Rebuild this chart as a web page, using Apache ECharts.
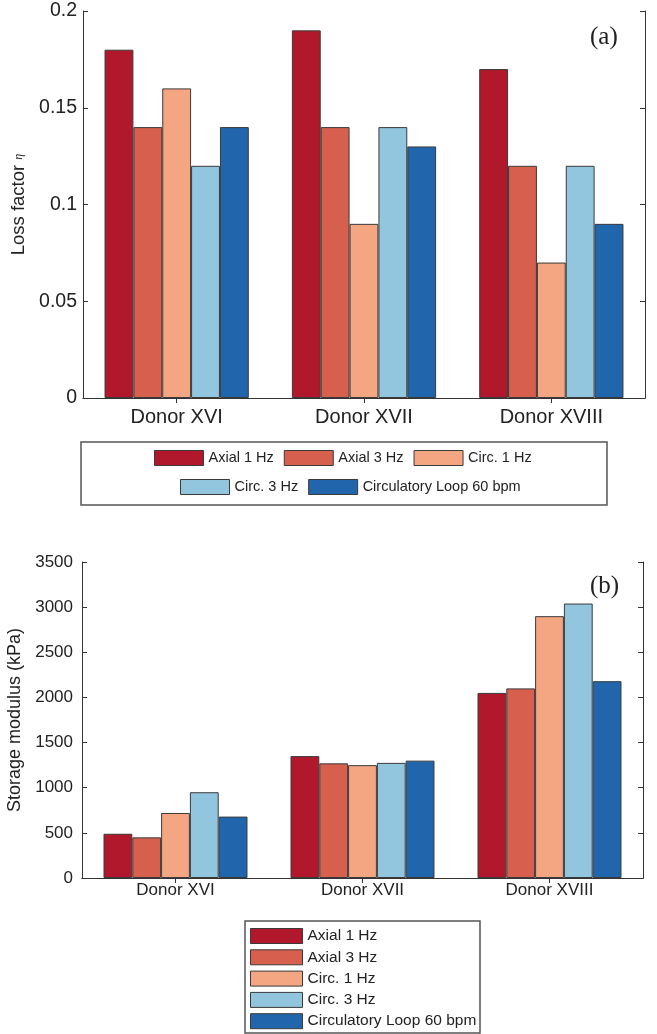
<!DOCTYPE html>
<html>
<head>
<meta charset="utf-8">
<script src="https://cdn.jsdelivr.net/npm/echarts@6/dist/echarts.min.js"></script>
<style>
  html, body { margin: 0; padding: 0; background: #ffffff; }
  #main { width: 657px; height: 1034px; }
</style>
</head>
<body>
<div id="main"></div>
<script>
// categories and series names
var donors = ['Donor XVI', 'Donor XVII', 'Donor XVIII'];
var seriesNames = ['Axial 1 Hz', 'Axial 3 Hz', 'Circ. 1 Hz', 'Circ. 3 Hz', 'Circulatory Loop 60 bpm'];

// (a) loss factor
var axial1Loss = [0.18, 0.19, 0.17];
var axial3Loss = [0.14, 0.14, 0.12];
var circ1Loss  = [0.16, 0.09, 0.07];
var circ3Loss  = [0.12, 0.14, 0.12];
var loopLoss   = [0.14, 0.13, 0.09];

// (b) storage modulus (kPa)
var axial1Storage = [490, 1350, 2050];
var axial3Storage = [450, 1270, 2100];
var circ1Storage  = [720, 1250, 2900];
var circ3Storage  = [950, 1275, 3040];
var loopStorage   = [680, 1300, 2180];

var barColors = ['#b2182b', '#d6604d', '#f4a582', '#92c5de', '#2166ac'];
var frameColor = '#333333';
var font = 'Liberation Sans';

var chart = echarts.init(document.getElementById('main'));

var lossData = [axial1Loss, axial3Loss, circ1Loss, circ3Loss, loopLoss];
var storageData = [axial1Storage, axial3Storage, circ1Storage, circ3Storage, loopStorage];

function makeXAxes(gridIndex, labelSize, labelMargin) {
  return [{
    type: 'category', gridIndex: gridIndex, data: donors, position: 'bottom',
    axisLine: { lineStyle: { color: frameColor, width: 1 } },
    axisTick: { show: false },
    axisLabel: { color: '#222', fontFamily: font, fontSize: labelSize, margin: labelMargin }
  }, {
    type: 'category', gridIndex: gridIndex, data: donors, position: 'top',
    axisLine: { lineStyle: { color: frameColor, width: 1 } },
    axisTick: { show: true, inside: true, length: 5, alignWithLabel: true, lineStyle: { color: frameColor } },
    axisLabel: { show: false }
  }];
}

function makeYAxes(gridIndex, max, interval, labelSize, labelMargin, name, nameGap, nameSize) {
  return [{
    type: 'value', gridIndex: gridIndex, min: 0, max: max, interval: interval, position: 'left',
    name: name, nameLocation: 'middle', nameGap: nameGap,
    nameTextStyle: {
      color: '#222', fontFamily: font, fontSize: nameSize,
      rich: { eta: { fontFamily: 'Liberation Serif', fontStyle: 'italic', fontSize: 12, color: '#222' } }
    },
    splitLine: { show: false },
    axisLine: { show: true, lineStyle: { color: frameColor, width: 1 } },
    axisTick: { show: true, inside: true, length: 5, lineStyle: { color: frameColor } },
    axisLabel: {
      color: '#222', fontFamily: font, fontSize: labelSize, margin: labelMargin,
      formatter: function (v) { return String(v); }
    }
  }, {
    type: 'value', gridIndex: gridIndex, min: 0, max: max, interval: interval, position: 'right',
    splitLine: { show: false },
    axisLine: { show: true, lineStyle: { color: frameColor, width: 1 } },
    axisTick: { show: true, inside: true, length: 5, lineStyle: { color: frameColor } },
    axisLabel: { show: false }
  }];
}

var series = [];
seriesNames.forEach(function (nm, i) {
  series.push({
    name: nm, type: 'bar', xAxisIndex: 0, yAxisIndex: 0, data: lossData[i],
    barGap: '0%', barCategoryGap: '23%',
    itemStyle: { color: barColors[i], borderColor: '#3a3a3a', borderWidth: 1 }
  });
});
seriesNames.forEach(function (nm, i) {
  series.push({
    name: nm, type: 'bar', xAxisIndex: 2, yAxisIndex: 2, data: storageData[i],
    barGap: '0%', barCategoryGap: '23%',
    itemStyle: { color: barColors[i], borderColor: '#3a3a3a', borderWidth: 1 }
  });
});

var legendCommon = {
  orient: 'horizontal', padding: 0, itemWidth: 49, itemHeight: 15, itemGap: 10,
  icon: 'rect', selectedMode: false,
  itemStyle: { borderColor: '#3a3a3a', borderWidth: 1 },
  textStyle: { color: '#222', fontFamily: font, fontSize: 14.5 }
};

var option = {
  backgroundColor: '#ffffff',
  animation: false,
  color: barColors,
  grid: [
    { left: 83, top: 11, width: 562, height: 387, outerBoundsMode: 'none', containLabel: false },
    { left: 82, top: 562, width: 561, height: 316, outerBoundsMode: 'none', containLabel: false }
  ],
  xAxis: makeXAxes(0, 20, 9).concat(makeXAxes(1, 17, 4)),
  yAxis: makeYAxes(0, 0.2, 0.05, 19.5, 6, 'Loss factor {eta|η}', 49, 18.5)
    .concat(makeYAxes(1, 3500, 500, 17, 9, 'Storage modulus (kPa)', 54, 18)),
  legend: [
    Object.assign({}, legendCommon, { data: seriesNames.slice(0, 3), left: 154, top: 450 }),
    Object.assign({}, legendCommon, { data: seriesNames.slice(3), left: 180, top: 479 }),
    Object.assign({}, legendCommon, {
      orient: 'vertical', data: seriesNames, left: 250, top: 928,
      itemWidth: 52, itemHeight: 15, itemGap: 5.3,
      textStyle: { color: '#222', fontFamily: font, fontSize: 15.5 }
    })
  ],
  graphic: [
    { type: 'rect', shape: { x: 81, y: 442, width: 526, height: 63 },
      style: { fill: 'none', stroke: '#555', lineWidth: 1.5 }, z: -1 },
    { type: 'rect', shape: { x: 245, y: 921, width: 235, height: 112 },
      style: { fill: 'none', stroke: '#555', lineWidth: 1.5 }, z: -1 },
    { type: 'text', left: 590, top: 25,
      style: { text: '(a)', fontFamily: 'Liberation Serif', fontSize: 25, fill: '#222' } },
    { type: 'text', left: 590, top: 574,
      style: { text: '(b)', fontFamily: 'Liberation Serif', fontSize: 25, fill: '#222' } }
  ],
  series: series
};

chart.setOption(option);
window.addEventListener('resize', function () { chart.resize(); });
</script>
</body>
</html>
